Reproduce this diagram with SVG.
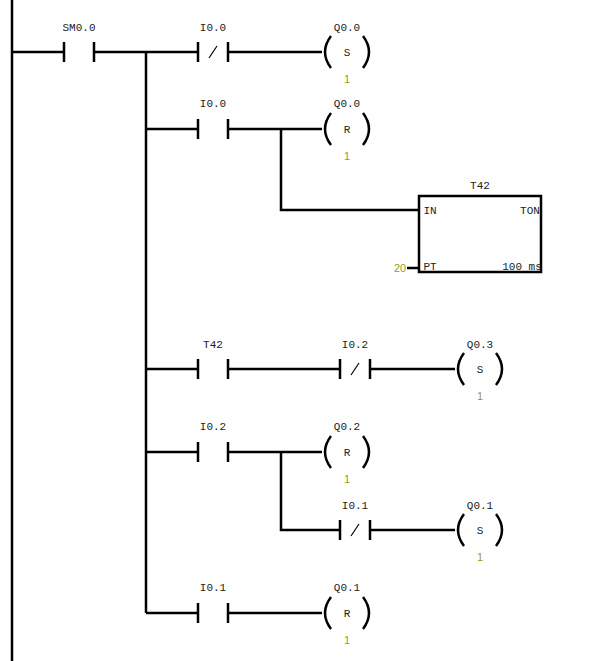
<svg xmlns="http://www.w3.org/2000/svg" width="603" height="661" viewBox="0 0 603 661">
<defs>
<style>
.w{stroke:#000;stroke-width:2.5;fill:none}
.t{font-family:"Liberation Mono",monospace;font-size:11px;fill:#222;text-anchor:middle}
.n{font-family:"Liberation Sans",sans-serif;font-size:11px;fill:#9a9a1e;text-anchor:middle}
</style>
<g id="no"><path class="w" d="M0 -10V10M30 -10V10"/></g>
<g id="nc"><path class="w" d="M0 -10V10M30 -10V10"/><path d="M11 6L19 -6" stroke="#000" stroke-width="1.2"/></g>
<g id="coil"><path class="w" d="M-16 -16Q-28 0 -16 16M16 -16Q28 0 16 16"/></g>
</defs>
<rect width="603" height="661" fill="#fff"/>
<g id="connectors">
<path class="w" d="M12 0V661"/>
<path class="w" d="M12 52H64M94 52H198M228 52H322"/>
<path class="w" d="M146 52V613"/>
<path class="w" d="M146 129H198M228 129H322M281 129V210H419"/>
<path class="w" d="M407 268H419"/>
<path class="w" d="M146 369H198M228 369H340M370 369H455"/>
<path class="w" d="M146 452H198M228 452H322M281 452V530H340M370 530H455"/>
<path class="w" d="M146 613H198M228 613H322"/>
</g>
<g id="sm00"><use href="#no" x="64" y="52"/><text class="t" x="79" y="31">SM0.0</text></g>
<g id="c1"><use href="#nc" x="198" y="52"/><text class="t" x="213" y="31">I0.0</text></g>
<g id="coil1"><use href="#coil" x="347" y="52"/><text class="t" x="347" y="31">Q0.0</text><text class="t" x="347" y="56">S</text><text class="n" x="347" y="83">1</text></g>
<g id="c2"><use href="#no" x="198" y="129"/><text class="t" x="213" y="107">I0.0</text></g>
<g id="coil2"><use href="#coil" x="347" y="129"/><text class="t" x="347" y="107">Q0.0</text><text class="t" x="347" y="133">R</text><text class="n" x="347" y="160">1</text></g>
<g id="ton"><rect x="419" y="196" width="122" height="76" fill="#fff" stroke="#000" stroke-width="2.5"/><text class="t" x="480" y="189">T42</text><text class="t" x="430" y="214">IN</text><text class="t" x="530" y="214">TON</text><text class="t" x="430" y="270">PT</text><text class="t" x="522" y="270">100 ms</text><text class="n" x="400" y="272" font-size="12">20</text></g>
<g id="c3"><use href="#no" x="198" y="369"/><text class="t" x="213" y="348">T42</text></g>
<g id="c4"><use href="#nc" x="340" y="369"/><text class="t" x="355" y="348">I0.2</text></g>
<g id="coil3"><use href="#coil" x="480" y="369"/><text class="t" x="480" y="348">Q0.3</text><text class="t" x="480" y="373">S</text><text class="n" x="480" y="400">1</text></g>
<g id="c5"><use href="#no" x="198" y="452"/><text class="t" x="213" y="430">I0.2</text></g>
<g id="coil4"><use href="#coil" x="347" y="452"/><text class="t" x="347" y="430">Q0.2</text><text class="t" x="347" y="456">R</text><text class="n" x="347" y="483">1</text></g>
<g id="c6"><use href="#nc" x="340" y="530"/><text class="t" x="355" y="509">I0.1</text></g>
<g id="coil5"><use href="#coil" x="480" y="530"/><text class="t" x="480" y="509">Q0.1</text><text class="t" x="480" y="534">S</text><text class="n" x="480" y="561">1</text></g>
<g id="c7"><use href="#no" x="198" y="613"/><text class="t" x="213" y="591">I0.1</text></g>
<g id="coil6"><use href="#coil" x="347" y="613"/><text class="t" x="347" y="591">Q0.1</text><text class="t" x="347" y="617">R</text><text class="n" x="347" y="644">1</text></g>
</svg>
